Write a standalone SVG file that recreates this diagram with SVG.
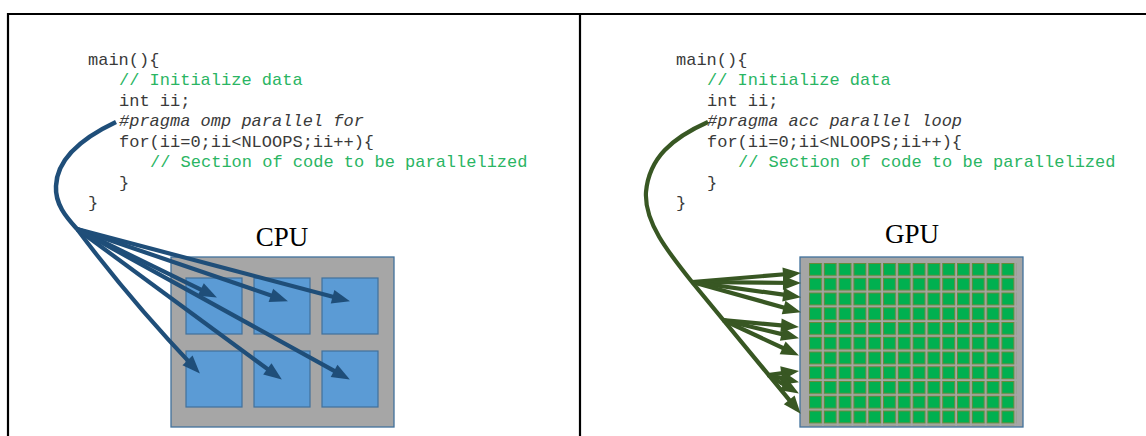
<svg xmlns="http://www.w3.org/2000/svg" width="1146" height="436" viewBox="0 0 1146 436">
<style>
.code{font-family:"Liberation Mono","Courier New",monospace;font-size:17px;fill:#3a3a3a;white-space:pre}
.cm{fill:#2ab563}
.it{font-style:italic}
.lbl{font-family:"Liberation Serif","Times New Roman",serif;font-size:27px;fill:#000;text-anchor:middle}
.frame{fill:none;stroke:#000;stroke-width:2.2}
.box{fill:#a6a6a6;stroke:#41719c;stroke-width:1.3}
.core{fill:#5b9bd5;stroke:#41719c;stroke-width:1.2}
.ba{fill:none;stroke:#1f4e79;stroke-width:4.2;marker-end:url(#ab)}
.bl{fill:none;stroke:#1f4e79;stroke-width:4.5}
.ga{fill:none;stroke:#385723;stroke-width:4.2;marker-end:url(#ag)}
</style>
<defs>
<marker id="ab" markerUnits="userSpaceOnUse" markerWidth="18" markerHeight="14" refX="11" refY="7" orient="auto" overflow="visible">
<path d="M0,0 L18,7 L0,14 z" fill="#1f4e79"/>
</marker>
<marker id="ag" markerUnits="userSpaceOnUse" markerWidth="18" markerHeight="14" refX="11" refY="7" orient="auto" overflow="visible">
<path d="M0,0 L18,7 L0,14 z" fill="#385723"/>
</marker>
<pattern id="cells" patternUnits="userSpaceOnUse" x="809" y="263" width="14.8" height="14.75">
<rect x="0.5" y="0.5" width="12" height="12" fill="#00b050" stroke="#6a8a3a" stroke-width="1"/>
</pattern>
</defs>
<rect width="1146" height="436" fill="#fff"/>
<g id="frame">
<path class="frame" d="M8,436 V14 H1146"/>
<path class="frame" d="M580,14 V436"/>
</g>
<g id="cpu-code">
<text class="code" x="88" y="64.5">main(){</text>
<text class="code cm" x="119" y="85">// Initialize data</text>
<text class="code" x="119" y="105.5">int ii;</text>
<text class="code it" x="119" y="126">#pragma omp parallel for</text>
<text class="code" x="119" y="146.5">for(ii=0;ii&lt;NLOOPS;ii++){</text>
<text class="code cm" x="150" y="167">// Section of code to be parallelized</text>
<text class="code" x="119" y="187.5">}</text>
<text class="code" x="88" y="208">}</text>
</g>
<g id="gpu-code">
<text class="code" x="676" y="64.5">main(){</text>
<text class="code cm" x="707" y="85">// Initialize data</text>
<text class="code" x="707" y="105.5">int ii;</text>
<text class="code it" x="707" y="126">#pragma acc parallel loop</text>
<text class="code" x="707" y="146.5">for(ii=0;ii&lt;NLOOPS;ii++){</text>
<text class="code cm" x="738" y="167">// Section of code to be parallelized</text>
<text class="code" x="707" y="187.5">}</text>
<text class="code" x="676" y="208">}</text>
</g>
<g id="cpu">
<text class="lbl" x="282" y="246">CPU</text>
<rect class="box" x="171" y="257" width="223" height="170"/>
<rect class="core" x="186" y="278" width="56" height="56"/>
<rect class="core" x="254" y="278" width="56" height="56"/>
<rect class="core" x="322" y="278" width="56" height="56"/>
<rect class="core" x="186" y="351" width="56" height="56"/>
<rect class="core" x="254" y="351" width="56" height="56"/>
<rect class="core" x="322" y="351" width="56" height="56"/>
</g>
<g id="gpu">
<text class="lbl" x="912" y="243">GPU</text>
<rect class="box" x="800" y="257" width="223" height="170"/>
<rect x="809" y="263" width="207.2" height="162.25" fill="url(#cells)"/>
</g>
<g id="connectors">
<path class="bl" d="M116,122 C82,138 57,158 56,186 C55,204 66,217 77,229"/>
<path class="ba" d="M77,229 L210.6,294.4"/>
<path class="ba" d="M77,229 L281.3,299"/>
<path class="ba" d="M77,229 L343.2,299.5"/>
<path class="ba" d="M77,229 Q130,300 195.1,368.4"/>
<path class="ba" d="M77,229 L276.2,375.4"/>
<path class="ba" d="M77,229 L343.7,376.1"/>
<path class="ga" d="M708,122 C672,138 649,158 646,192 C644,222 668,252 692,282 L796.2,408.4"/>
<path class="ga" d="M692,282 L794,273.5"/>
<path class="ga" d="M692,282 L794,283"/>
<path class="ga" d="M692,282 L794.1,296.2"/>
<path class="ga" d="M692,282 L794.2,310.4"/>
<path class="ga" d="M723,320 L792,326.4"/>
<path class="ga" d="M723,320 L792.2,336.6"/>
<path class="ga" d="M723,320 L792.6,352.5"/>
<path class="ga" d="M768,375 L792.1,371.8"/>
<path class="ga" d="M768,375 L792.2,380.6"/>
<path class="ga" d="M768,375 L792.9,389.9"/>
</g>
</svg>
